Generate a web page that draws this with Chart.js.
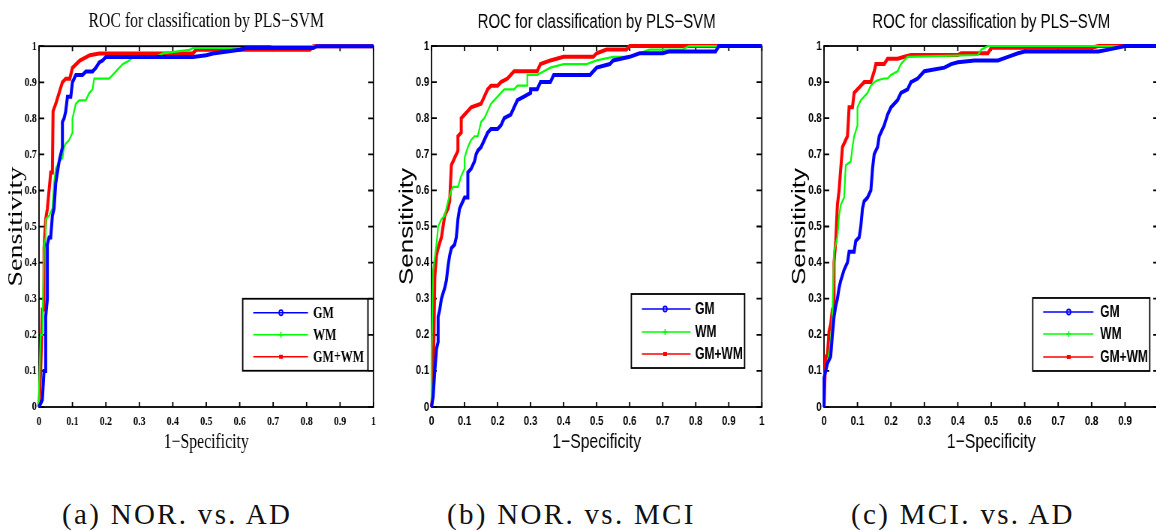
<!DOCTYPE html>
<html>
<head>
<meta charset="utf-8">
<script src="https://cdn.jsdelivr.net/npm/chart.js@4"></script>
<style>
  html, body { margin: 0; padding: 0; background: #fff; overflow: hidden; width: 1156px; height: 531px; }
  .box { position: absolute; top: 0; transform: scaleX(0.75); transform-origin: 0 0; }
  .cap { position: absolute; top: 498px; font-family: 'Liberation Serif', serif; font-size: 29px; letter-spacing: 2.3px; color: #111; white-space: nowrap; }
</style>
</head>
<body>
<div class="box" style="left:0px"><canvas id="rocA" width="513" height="460"></canvas></div>
<div class="box" style="left:385px"><canvas id="rocB" width="513" height="460"></canvas></div>
<div class="box" style="left:770px"><canvas id="rocC" width="540" height="460"></canvas></div>
<div class="cap" style="left:62px">(a) NOR. vs. AD</div>
<div class="cap" style="left:447px">(b) NOR. vs. MCI</div>
<div class="cap" style="left:851px">(c) MCI. vs. AD</div>
<script>
// tick values of both axes
var tickVals = [0, 0.1, 0.2, 0.3, 0.4, 0.5, 0.6, 0.7, 0.8, 0.9, 1];
var seriesNames = ['GM', 'WM', 'GM+WM'];

// (a) NOR vs AD
var aGmX = [0, 0.01, 0.015, 0.02, 0.02, 0.025, 0.025, 0.03, 0.035, 0.04, 0.045, 0.05, 0.055, 0.06, 0.065, 0.07, 0.07, 0.075, 0.08, 0.085, 0.095, 0.1, 0.105, 0.11, 0.13, 0.14, 0.16, 0.17, 0.18, 0.19, 0.2, 0.46, 0.5, 0.52, 0.6, 0.62, 0.82, 0.83, 1];
var aGmY = [0, 0.02, 0.1, 0.1, 0.25, 0.3, 0.45, 0.47, 0.47, 0.53, 0.55, 0.62, 0.65, 0.68, 0.7, 0.72, 0.79, 0.8, 0.82, 0.86, 0.86, 0.9, 0.91, 0.92, 0.92, 0.93, 0.93, 0.94, 0.955, 0.96, 0.97, 0.97, 0.975, 0.98, 0.99, 0.995, 0.995, 1, 1];
var aWmX = [0, 0, 0.005, 0.01, 0.015, 0.02, 0.02, 0.03, 0.04, 0.045, 0.05, 0.06, 0.07, 0.075, 0.08, 0.09, 0.1, 0.1, 0.11, 0.12, 0.14, 0.15, 0.16, 0.165, 0.21, 0.23, 0.25, 0.27, 0.28, 0.35, 0.37, 0.45, 0.46, 0.68, 0.7, 1];
var aWmY = [0, 0.05, 0.2, 0.2, 0.45, 0.47, 0.52, 0.53, 0.55, 0.62, 0.66, 0.68, 0.69, 0.72, 0.73, 0.74, 0.76, 0.8, 0.84, 0.85, 0.85, 0.87, 0.88, 0.91, 0.91, 0.93, 0.95, 0.96, 0.97, 0.97, 0.98, 0.99, 0.995, 0.995, 1, 1];
var aBothX = [0, 0.005, 0.01, 0.015, 0.015, 0.02, 0.025, 0.03, 0.035, 0.04, 0.042, 0.05, 0.06, 0.07, 0.08, 0.092, 0.1, 0.122, 0.152, 0.18, 0.46, 0.47, 0.81, 0.82, 1];
var aBothY = [0, 0.1, 0.27, 0.27, 0.44, 0.52, 0.55, 0.6, 0.65, 0.65, 0.82, 0.84, 0.87, 0.9, 0.91, 0.91, 0.94, 0.96, 0.975, 0.98, 0.98, 0.99, 0.99, 1, 1];

// (b) NOR vs MCI
var bGmX = [0, 0.005, 0.01, 0.015, 0.02, 0.02, 0.025, 0.03, 0.04, 0.045, 0.05, 0.055, 0.06, 0.07, 0.075, 0.08, 0.085, 0.09, 0.1, 0.11, 0.11, 0.12, 0.13, 0.135, 0.14, 0.15, 0.16, 0.17, 0.18, 0.2, 0.21, 0.22, 0.24, 0.25, 0.26, 0.28, 0.3, 0.3, 0.32, 0.33, 0.36, 0.37, 0.48, 0.5, 0.54, 0.55, 0.6, 0.63, 0.7, 0.72, 0.86, 0.87, 1];
var bGmY = [0, 0.03, 0.1, 0.16, 0.18, 0.25, 0.27, 0.3, 0.33, 0.35, 0.39, 0.42, 0.44, 0.45, 0.47, 0.52, 0.55, 0.56, 0.58, 0.58, 0.65, 0.66, 0.68, 0.7, 0.71, 0.72, 0.74, 0.76, 0.77, 0.77, 0.78, 0.8, 0.81, 0.83, 0.85, 0.86, 0.87, 0.88, 0.88, 0.9, 0.9, 0.92, 0.92, 0.94, 0.95, 0.96, 0.97, 0.98, 0.98, 0.985, 0.985, 1, 1];
var bWmX = [0, 0, 0.005, 0.015, 0.02, 0.03, 0.04, 0.05, 0.06, 0.065, 0.08, 0.09, 0.1, 0.1, 0.11, 0.12, 0.13, 0.14, 0.15, 0.16, 0.17, 0.18, 0.19, 0.2, 0.22, 0.25, 0.26, 0.29, 0.29, 0.32, 0.34, 0.36, 0.4, 0.47, 0.5, 0.55, 0.6, 0.63, 0.66, 0.76, 0.78, 1];
var bWmY = [0, 0.15, 0.38, 0.45, 0.5, 0.52, 0.53, 0.57, 0.6, 0.61, 0.61, 0.64, 0.66, 0.69, 0.72, 0.74, 0.75, 0.75, 0.79, 0.8, 0.82, 0.84, 0.85, 0.86, 0.88, 0.88, 0.89, 0.89, 0.92, 0.92, 0.93, 0.94, 0.95, 0.95, 0.96, 0.97, 0.97, 0.98, 0.99, 0.99, 1, 1];
var bBothX = [0, 0.005, 0.01, 0.015, 0.02, 0.03, 0.035, 0.04, 0.05, 0.055, 0.06, 0.07, 0.08, 0.08, 0.09, 0.09, 0.1, 0.11, 0.12, 0.15, 0.16, 0.17, 0.18, 0.2, 0.21, 0.23, 0.25, 0.32, 0.33, 0.36, 0.4, 0.49, 0.5, 0.53, 0.59, 0.6, 1];
var bBothY = [0, 0.05, 0.36, 0.42, 0.44, 0.47, 0.5, 0.53, 0.55, 0.57, 0.67, 0.69, 0.71, 0.75, 0.76, 0.8, 0.81, 0.82, 0.83, 0.84, 0.86, 0.88, 0.89, 0.89, 0.9, 0.91, 0.93, 0.93, 0.95, 0.96, 0.97, 0.97, 0.98, 0.99, 0.99, 1, 1];

// (c) MCI vs AD
var cGmX = [0, 0, 0.01, 0.02, 0.025, 0.03, 0.035, 0.04, 0.045, 0.05, 0.06, 0.07, 0.075, 0.09, 0.095, 0.105, 0.11, 0.115, 0.12, 0.13, 0.14, 0.145, 0.15, 0.16, 0.165, 0.17, 0.18, 0.19, 0.2, 0.22, 0.23, 0.25, 0.26, 0.28, 0.29, 0.3, 0.36, 0.38, 0.4, 0.45, 0.52, 0.55, 0.58, 0.6, 0.82, 0.85, 0.9, 1];
var cGmY = [0, 0.08, 0.12, 0.14, 0.2, 0.25, 0.28, 0.3, 0.33, 0.35, 0.38, 0.4, 0.43, 0.43, 0.46, 0.47, 0.5, 0.55, 0.57, 0.58, 0.6, 0.66, 0.7, 0.72, 0.75, 0.76, 0.78, 0.81, 0.83, 0.85, 0.87, 0.88, 0.9, 0.91, 0.92, 0.93, 0.94, 0.95, 0.955, 0.96, 0.96, 0.97, 0.98, 0.985, 0.985, 0.99, 1, 1];
var cWmX = [0, 0, 0.01, 0.02, 0.025, 0.03, 0.04, 0.045, 0.05, 0.06, 0.065, 0.08, 0.085, 0.09, 0.1, 0.1, 0.11, 0.12, 0.13, 0.14, 0.15, 0.16, 0.18, 0.19, 0.2, 0.22, 0.23, 0.24, 0.25, 0.46, 0.47, 0.49, 1];
var cWmY = [0, 0.09, 0.12, 0.18, 0.25, 0.43, 0.47, 0.53, 0.56, 0.58, 0.67, 0.68, 0.72, 0.75, 0.78, 0.83, 0.85, 0.86, 0.87, 0.89, 0.9, 0.905, 0.91, 0.91, 0.92, 0.93, 0.95, 0.96, 0.97, 0.975, 0.99, 1, 1];
var cBothX = [0, 0.005, 0.01, 0.015, 0.02, 0.025, 0.03, 0.03, 0.035, 0.04, 0.045, 0.05, 0.055, 0.065, 0.07, 0.075, 0.085, 0.09, 0.1, 0.11, 0.12, 0.14, 0.15, 0.155, 0.18, 0.19, 0.22, 0.24, 0.26, 0.4, 0.41, 0.49, 0.5, 0.8, 0.82, 1];
var cBothY = [0, 0.14, 0.14, 0.21, 0.23, 0.27, 0.27, 0.4, 0.46, 0.56, 0.6, 0.66, 0.72, 0.74, 0.75, 0.83, 0.83, 0.87, 0.88, 0.89, 0.9, 0.9, 0.93, 0.95, 0.95, 0.965, 0.965, 0.97, 0.975, 0.975, 0.98, 0.98, 0.995, 0.995, 1, 1];

function pts(xs, ys) {
    return xs.map(function (v, i) { return { x: v, y: ys[i] }; });
}

var serifF = "'Liberation Serif', 'Times New Roman', serif";
var sansF = "'Liberation Sans', Arial, sans-serif";

// frame + inward ticks like matlab
var frameTicks = {
    id: 'frameTicks',
    beforeDatasetsDraw(chart) {
        let ctx = chart.ctx;
        let a = chart.chartArea;
        let sx = chart.scales.x, sy = chart.scales.y;
        ctx.save();
        ctx.strokeStyle = '#000';
        ctx.lineWidth = 1.8;
        ctx.strokeRect(a.left, a.top, a.right - a.left, a.bottom - a.top);
        ctx.beginPath();
        tickVals.forEach(v => {
            let px = sx.getPixelForValue(v);
            ctx.moveTo(px, a.bottom); ctx.lineTo(px, a.bottom - 5);
            ctx.moveTo(px, a.top); ctx.lineTo(px, a.top + 5);
            let py = sy.getPixelForValue(v);
            ctx.moveTo(a.left, py); ctx.lineTo(a.left + 7, py);
            ctx.moveTo(a.right, py); ctx.lineTo(a.right - 7, py);
        });
        ctx.stroke();
        ctx.restore();
    }
};

// matlab style legend box inside the axes
var boxLegend = {
    id: 'boxLegend',
    afterDatasetsDraw(chart, args, o) {
        let ctx = chart.ctx;
        let a = chart.chartArea;
        let x0 = a.left + o.fx * (a.right - a.left), y0 = a.top + o.fy * (a.bottom - a.top);
        ctx.save();
        ctx.fillStyle = '#fff';
        ctx.fillRect(x0, y0, o.w, o.h);
        ctx.strokeStyle = '#000';
        ctx.lineWidth = 1.8;
        ctx.strokeRect(x0, y0, o.w, o.h);
        ctx.font = o.font;
        ctx.textBaseline = 'middle';
        chart.data.datasets.forEach((ds, i) => {
            let ry = y0 + o.rows[i];
            ctx.strokeStyle = ds.borderColor;
            ctx.lineWidth = 1.6;
            ctx.beginPath();
            ctx.moveTo(x0 + o.l0, ry); ctx.lineTo(x0 + o.l1, ry);
            ctx.stroke();
            let mx = x0 + o.mk;
            ctx.beginPath();
            if (i == 0) { ctx.arc(mx, ry, 2.6, 0, Math.PI * 2); ctx.stroke(); }
            else if (i == 1) { ctx.moveTo(mx - 3, ry); ctx.lineTo(mx + 3, ry); ctx.moveTo(mx, ry - 3); ctx.lineTo(mx, ry + 3); ctx.stroke(); }
            else { ctx.fillStyle = ds.borderColor; ctx.fillRect(mx - 2.5, ry - 2, 5, 4); }
            ctx.fillStyle = '#000';
            ctx.fillText(ds.label, x0 + o.tx, ry + 1);
        });
        ctx.restore();
    }
};

function makeRoc(el, gm, wm, both, cfg) {
    new Chart(el, {
        type: 'scatter',
        data: {
            datasets: [
                { label: seriesNames[0], data: gm, borderColor: '#0000ff', borderWidth: 4 },
                { label: seriesNames[1], data: wm, borderColor: '#00ff00', borderWidth: 2.2 },
                { label: seriesNames[2], data: both, borderColor: '#ff0000', borderWidth: 4 }
            ]
        },
        options: {
            responsive: false,
            animation: false,
            showLine: true,
            clip: 4,
            elements: { point: { radius: 0, hoverRadius: 0 }, line: { tension: 0 } },
            layout: { padding: { left: 0, right: cfg.padRight, top: 0, bottom: 0 } },
            plugins: {
                legend: { display: false },
                tooltip: { enabled: false },
                title: {
                    display: true,
                    fullSize: false,
                    text: 'ROC for classification by PLS\u2212SVM',
                    color: '#000',
                    font: { family: cfg.font, size: cfg.titleSize, weight: 'normal', lineHeight: 1.2 },
                    padding: cfg.titlePad
                },
                boxLegend: cfg.legend
            },
            scales: {
                x: {
                    type: 'linear', min: 0, max: 1,
                    afterBuildTicks: s => { s.ticks = tickVals.map(v => ({ value: v })); },
                    afterFit: s => { s.height = 53; },
                    grid: { display: false, drawTicks: false, tickLength: 0 },
                    border: { display: false },
                    ticks: { color: '#000', padding: 7, maxRotation: 0, callback: v => String(v), font: { family: cfg.font, size: 13, weight: 'bold' } },
                    title: { display: true, text: '1\u2212Specificity', color: '#000', padding: { top: 0, bottom: 5 }, font: { family: cfg.font, size: 21, lineHeight: 1.2 } }
                },
                y: {
                    type: 'linear', min: 0, max: 1,
                    afterBuildTicks: s => { s.ticks = tickVals.map(v => ({ value: v })); },
                    afterFit: s => { s.width = cfg.yWidth; },
                    grid: { display: false, drawTicks: false, tickLength: 0 },
                    border: { display: false },
                    ticks: { color: '#000', padding: 3, callback: v => String(v), font: { family: cfg.font, size: 13, weight: 'bold' } },
                    title: { display: true, text: 'Sensitivity', color: '#000', padding: { top: cfg.yTitlePad, bottom: 0 }, font: { family: cfg.font, size: cfg.yTitleSize, lineHeight: 1.2 } }
                }
            }
        },
        plugins: [frameTicks, boxLegend]
    });
}

makeRoc(document.getElementById('rocA'), pts(aGmX, aGmY), pts(aWmX, aWmY), pts(aBothX, aBothY), {
    padRight: 15, yWidth: 52, yTitlePad: 5, yTitleSize: 28,
    font: serifF, titleSize: 21, titlePad: { top: 9, bottom: 12 },
    legend: { fx: 0.609, fy: 0.70, w: 167, h: 72, l0: 14, l1: 87, mk: 51, tx: 94, rows: [14, 36, 58], font: "bold 16px " + serifF }
});
makeRoc(document.getElementById('rocB'), pts(bGmX, bGmY), pts(bWmX, bWmY), pts(bBothX, bBothY), {
    padRight: 5, yWidth: 62, yTitlePad: 14, yTitleSize: 26,
    font: sansF, titleSize: 20, titlePad: { top: 10, bottom: 12 },
    legend: { fx: 0.605, fy: 0.687, w: 151, h: 74, l0: 14, l1: 79, mk: 45, tx: 85, rows: [15, 38, 60], font: "bold 16px " + sansF }
});
makeRoc(document.getElementById('rocC'), pts(cGmX, cGmY), pts(cWmX, cWmY), pts(cBothX, cBothY), {
    padRight: 22, yWidth: 72, yTitlePad: 24, yTitleSize: 26,
    font: sansF, titleSize: 20, titlePad: { top: 10, bottom: 12 },
    legend: { fx: 0.624, fy: 0.698, w: 156, h: 73, l0: 14, l1: 81, mk: 48, tx: 90, rows: [14, 36, 59], font: "bold 16px " + sansF }
});
</script>
</body>
</html>
